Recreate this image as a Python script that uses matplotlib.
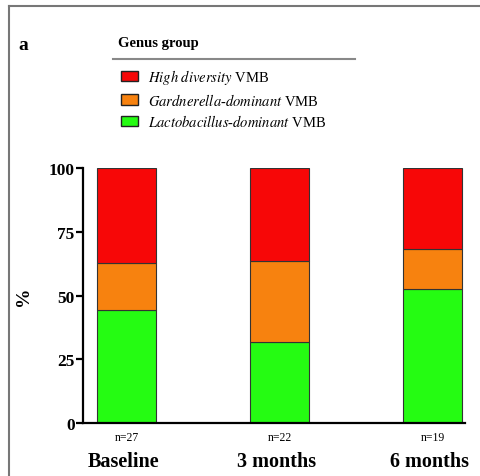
import numpy as np
import matplotlib.pyplot as plt
from matplotlib.lines import Line2D
from matplotlib.patches import Patch

plt.rcParams['font.family'] = ['Liberation Serif', 'DejaVu Serif']
plt.rcParams['mathtext.fontset'] = 'stix'

timepoints = ["Baseline", "3 months", "6 months"]
n_labels = ["n=27", "n=22", "n=19"]
groups = ["Lactobacillus", "Gardnerella", "High diversity"]
lacto_pct = [44.4, 31.8, 52.6]
gard_pct = [18.5, 31.8, 15.8]
high_pct = [37.0, 36.4, 31.6]
colours = ["#25fc12", "#f7820f", "#f70707"]
legend_labels = [r"$\it{High\ diversity}$ VMB",
                 r"$\it{Gardnerella}$-$\it{dominant}$ VMB",
                 r"$\it{Lactobacillus}$-$\it{dominant}$ VMB"]

fig = plt.figure(figsize=(4.81, 4.77), dpi=100)
ax = fig.add_axes([0.1726, 0.111, 0.7941, 0.5347])

x = np.arange(len(timepoints))
width = 0.386
bottom = np.zeros(len(x))
for vals, col in zip([lacto_pct, gard_pct, high_pct], colours):
    ax.bar(x, vals, width, bottom=bottom, color=col, edgecolor="#333333", linewidth=0.8)
    bottom += np.array(vals)

ax.set_xlim(-0.284, 2.212)
ax.set_ylim(0, 100)
ax.set_yticks([0, 25, 50, 75, 100])
ax.set_yticklabels(["0", "25", "50", "75", "100"], fontweight="bold", fontsize=12.5)
ax.set_xticks([])
ax.spines["top"].set_visible(False)
ax.spines["right"].set_visible(False)
ax.spines["left"].set_linewidth(1.6)
ax.spines["bottom"].set_linewidth(1.6)
ax.tick_params(axis="y", width=1.6, length=5, pad=1)
ax.set_ylabel("%", fontweight="bold", fontsize=14, labelpad=12)

for xi, lab, nl in zip(x, timepoints, n_labels):
    ax.text(xi, -5.5, nl, ha="center", va="center", fontsize=8.5)
    ax.text(xi - 0.02, -15, lab, ha="center", va="center", fontsize=14.5, fontweight="bold")

# panel letter and legend
fig.text(18 / 481, 1 - 45 / 477, "a", fontsize=14, fontweight="bold", va="center")
fig.text(118 / 481, 1 - 43 / 477, "Genus group", fontsize=10.5, fontweight="bold", va="center")
fig.add_artist(Line2D([113 / 481, 355 / 481], [1 - 60 / 477, 1 - 60 / 477], color="#888888", linewidth=1.5))

handles = [Patch(facecolor=colours[2], edgecolor="#222222"),
           Patch(facecolor=colours[1], edgecolor="#222222"),
           Patch(facecolor=colours[0], edgecolor="#222222")]
fig.legend(handles, legend_labels, loc="upper left", bbox_to_anchor=(121 / 481, 1 - 68 / 477),
           frameon=False, fontsize=10.5, borderpad=0, borderaxespad=0, handlelength=1.16,
           handleheight=0.72, handletextpad=0.68, labelspacing=0.38)

# outer frame
fig.add_artist(Line2D([9 / 481, 9 / 481], [0, 1 - 7 / 477], color="#777777", linewidth=1.5))
fig.add_artist(Line2D([9 / 481, 1], [1 - 7 / 477, 1 - 7 / 477], color="#777777", linewidth=1.5))

fig.savefig("out.png", dpi=100)
